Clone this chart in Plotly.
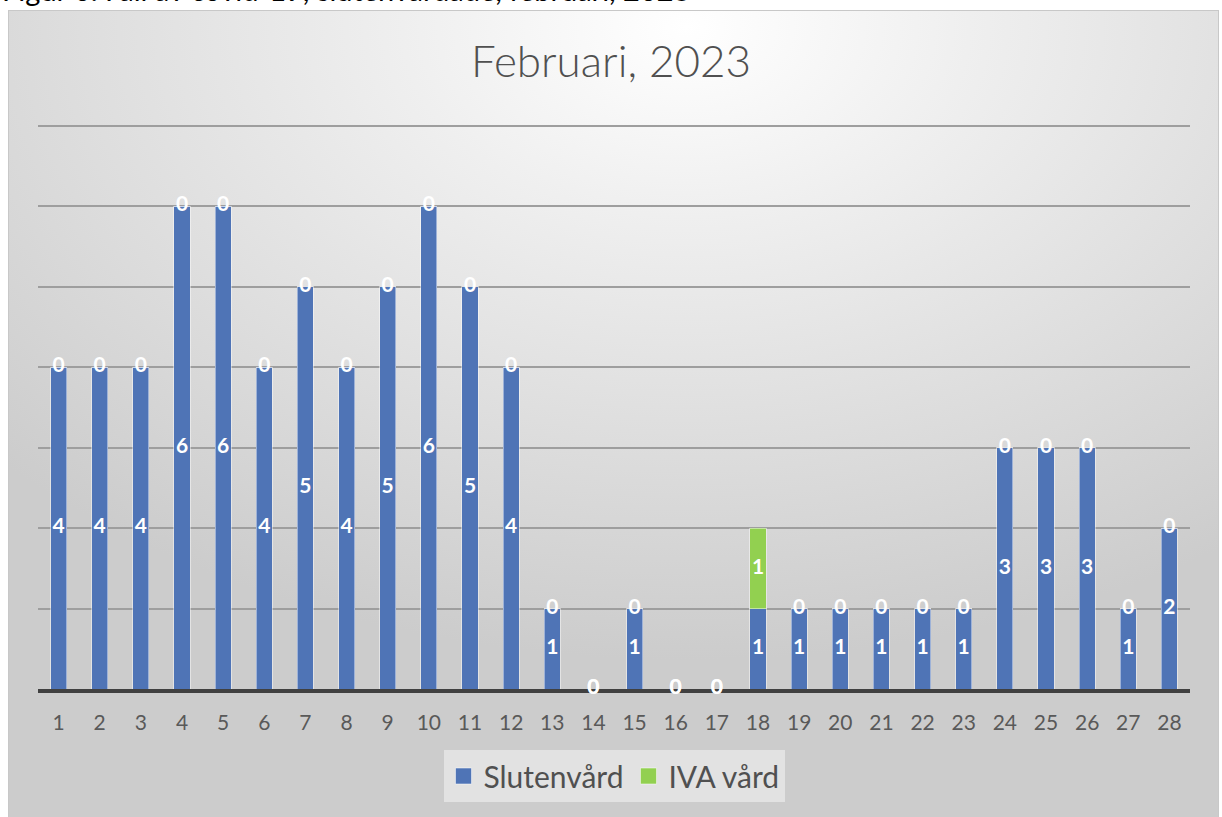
import base64
import plotly.graph_objects as go

days = [str(d) for d in range(1, 29)]
slutenvard = [4, 4, 4, 6, 6, 4, 5, 4, 5, 6, 5, 4, 1, 0, 1, 0, 0, 1, 1, 1, 1, 1, 1, 3, 3, 3, 1, 2]
iva_vard = [0] * 17 + [1] + [0] * 10

series_names = ["Slutenvård", "IVA vård"]
title_text = "Februari, 2023"
caption_text = "Figur 6. Fall av covid-19, slutenvårdade, februari, 2023"

W, H = 1222, 817
L, R, T, B = 38, 32, 124, 128
pw, ph = W - L - R, H - T - B

BLUE = "#4f74b6"
GREEN = "#92d050"

# background gradient as svg image
bx0, by0, bx1, by1 = 8, 10, 1219, 817
bw, bh = bx1 - bx0, by1 - by0
svg = f'''<svg xmlns="http://www.w3.org/2000/svg" width="{bw}" height="{bh}" viewBox="0 0 {bw} {bh}" preserveAspectRatio="none">
<defs><radialGradient id="g" cx="0.56" cy="0.02" r="0.78" gradientUnits="objectBoundingBox">
<stop offset="0" stop-color="#ffffff"/><stop offset="0.3" stop-color="#efefef"/><stop offset="0.7" stop-color="#dbdbdb"/><stop offset="1" stop-color="#cccccc"/></radialGradient></defs>
<rect x="0.5" y="0.5" width="{bw-1}" height="{bh+5}" fill="url(#g)" stroke="#c8c8c8" stroke-width="1"/></svg>'''
src = "data:image/svg+xml;base64," + base64.b64encode(svg.encode()).decode()

def px2x(px):
    return (px - L) / pw

def px2y(py):
    return (H - B - py) / ph

fig = go.Figure()
bar_line = dict(color="rgba(255,255,255,0.45)", width=1)
fig.add_trace(go.Bar(x=days, y=slutenvard, name=series_names[0], marker=dict(color=BLUE, line=bar_line), showlegend=False))
fig.add_trace(go.Bar(x=days, y=iva_vard, name=series_names[1], marker=dict(color=GREEN, line=bar_line), showlegend=False))

lab_font = dict(family="Lato", size=21, color="white", weight="bold")
fig.add_trace(go.Scatter(x=days, y=[v / 2 for v in slutenvard], mode="text", text=[str(v) for v in slutenvard],
                         textfont=lab_font, showlegend=False, hoverinfo="skip", cliponaxis=False))
fig.add_trace(go.Scatter(x=days, y=[s + v / 2 for s, v in zip(slutenvard, iva_vard)], mode="text",
                         text=[str(v) for v in iva_vard], textfont=lab_font, showlegend=False, hoverinfo="skip", cliponaxis=False))

# legend entries with larger square swatches
for nm, col in zip(series_names, [BLUE, GREEN]):
    fig.add_trace(go.Scatter(x=[None], y=[None], mode="markers", name=nm,
                             marker=dict(symbol="square", size=17, color=col, line=dict(color="rgba(255,255,255,0.5)", width=1))))

fig.update_layout(
    width=W, height=H,
    margin=dict(l=L, r=R, t=T, b=B, autoexpand=False),
    barmode="stack", bargap=0.61,
    paper_bgcolor="white", plot_bgcolor="rgba(0,0,0,0)",
    font=dict(family="Lato", color="#595959"),
    title=dict(text=title_text, x=0.5, xanchor="center", y=1 - 62 / H, yanchor="middle", yref="container",
               font=dict(family="Lato", size=44, color="#505050", weight=300)),
    xaxis=dict(type="category", range=[-0.5, len(days) - 0.5], showline=True, linecolor="#404040", linewidth=4,
               showgrid=False, tickfont=dict(size=21, color="#595959"), ticks="", ticklabelstandoff=12,
               layer="below traces"),
    yaxis=dict(range=[0, 7.02], tickvals=[1, 2, 3, 4, 5, 6, 7], showticklabels=False, showgrid=True,
               gridcolor="#9e9e9e", gridwidth=2, zeroline=False, showline=False),
    legend=dict(orientation="h", x=0.5, xanchor="center", y=px2y(750), yanchor="top",
                bgcolor="#e2e2e2", font=dict(size=30, color="#505050"), itemwidth=30,
                traceorder="normal", borderwidth=0),
    images=[dict(source=src, xref="paper", yref="paper", x=px2x(bx0), y=px2y(by0), sizex=bw / pw, sizey=bh / ph,
                 xanchor="left", yanchor="top", sizing="stretch", layer="below")],
    annotations=[dict(text=caption_text, xref="paper", yref="paper", x=px2x(0), y=px2y(9), xanchor="left",
                      yanchor="bottom", showarrow=False, font=dict(family="Lato", size=29, color="#000000"))],
)

fig.write_html("out.html", config={"displayModeBar": False}, post_script="document.body.style.margin='0';")
